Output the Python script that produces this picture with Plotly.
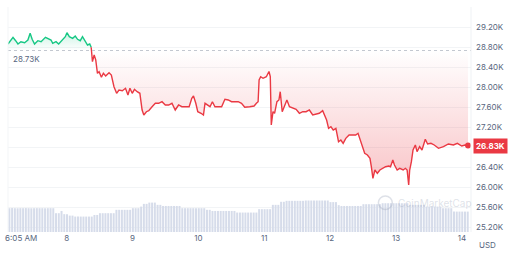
import plotly.graph_objects as go

# ---- data (time in fractional days of May, price in USD) ----
green_t = [7.110, 7.186, 7.226, 7.261, 7.306, 7.362, 7.412, 7.446, 7.477, 7.513, 7.563, 7.612,
           7.679, 7.713, 7.763, 7.789, 7.839, 7.879, 7.929, 7.980, 8.005, 8.041, 8.091, 8.131,
           8.166, 8.207, 8.241, 8.282, 8.317, 8.351, 8.373]
green_p = [28860, 28994, 28926, 28860, 28906, 28886, 28940, 29074, 28954, 28860, 28926, 28906,
           28994, 28974, 28940, 28874, 28906, 28860, 28940, 29006, 29086, 29006, 28974, 29020,
           28954, 28926, 29006, 28926, 28840, 28860, 28794]

red_t = [8.373, 8.392, 8.418, 8.442, 8.468, 8.493, 8.528, 8.558, 8.593, 8.644, 8.679, 8.719, 8.759,
         8.795, 8.845, 8.894, 8.931, 8.961, 8.996, 9.030, 9.071, 9.112, 9.146, 9.172, 9.211,
         9.247, 9.297, 9.347, 9.398, 9.448, 9.498, 9.549, 9.599, 9.649, 9.700, 9.750, 9.810,
         9.860, 9.900, 9.926, 9.961, 9.991, 10.041, 10.077, 10.101, 10.142, 10.177, 10.213,
         10.252, 10.303, 10.353, 10.403, 10.454, 10.504, 10.564, 10.605, 10.655, 10.704, 10.780,
         10.846, 10.881, 10.907, 10.922, 10.946, 10.982, 11.032, 11.072, 11.092, 11.107, 11.133,
         11.157, 11.193, 11.223, 11.243, 11.273, 11.308, 11.344, 11.383, 11.434, 11.484, 11.534,
         11.585, 11.635, 11.685, 11.736, 11.786, 11.836, 11.887, 11.911, 11.947, 11.977, 12.012,
         12.047, 12.088, 12.128, 12.163, 12.198, 12.238, 12.288, 12.339, 12.389, 12.424, 12.454,
         12.490, 12.525, 12.566, 12.605, 12.626, 12.650, 12.680, 12.717, 12.756, 12.792, 12.842,
         12.891, 12.917, 12.952, 12.977, 13.018, 13.057, 13.109, 13.143, 13.169, 13.193, 13.208,
         13.234, 13.259, 13.294, 13.320, 13.359, 13.395, 13.445, 13.480, 13.531, 13.581, 13.646,
         13.721, 13.796, 13.872, 13.932, 13.999, 14.048, 14.094]
red_p = [28794, 28506, 28640, 28540, 28274, 28306, 28194, 28274, 28220, 28286, 28240, 28006, 27874,
         27940, 27926, 27974, 27840, 27974, 27874, 27954, 27906, 27874, 27540, 27440, 27506,
         27526, 27606, 27674, 27674, 27706, 27640, 27640, 27674, 27540, 27640, 27606, 27606,
         27606, 27774, 27820, 27674, 27506, 27474, 27440, 27674, 27640, 27606, 27706,
         27606, 27606, 27606, 27754, 27740, 27706, 27706, 27706, 27674, 27594, 27606,
         27620, 27674, 27706, 28140, 28206, 28174, 28206, 28310, 28206, 27240, 27506,
         27474, 27706, 27740, 27906, 27506, 27606, 27740, 27606, 27574, 27554, 27474,
         27506, 27506, 27540, 27440, 27460, 27474, 27526, 27440, 27340, 27174, 27206,
         27140, 27174, 26906, 26940, 26874, 26974, 27040, 27040, 27040, 27074, 26940,
         26806, 26674, 26640, 26574, 26406, 26174, 26340, 26274, 26340, 26374, 26406,
         26420, 26406, 26540, 26440, 26340, 26374, 26340, 26374, 26340, 26040, 26340,
         26506, 26740, 26840, 26706, 26806, 26740, 26954, 26860, 26874, 26840, 26774,
         26806, 26860, 26840, 26874, 26820, 26840, 26830]

baseline_price = 28730
last_price = 26830

volume_start = 7.110
volume_step = 1 / 24  # hourly
volume = [740, 745, 740, 738, 742, 740, 744, 740, 738, 740, 742, 740, 740, 738, 740, 742, 740,
          585, 585, 655, 555, 555, 510, 510, 480, 480, 480, 480, 480, 480, 480, 530, 530,
          585, 585, 585, 585, 585, 585, 690, 690, 690, 690, 690, 690, 740, 740, 740, 790,
          875, 875, 915, 915, 915, 845, 845, 810, 810, 810, 810, 810, 810, 810, 740, 740,
          740, 740, 740, 740, 740, 740, 740, 690, 690, 655, 655, 655, 655, 655, 655, 655,
          655, 655, 605, 605, 605, 605, 605, 605, 605, 605, 710, 710, 710, 710, 710, 845,
          845, 845, 940, 940, 970, 970, 970, 970, 970, 970, 970, 980, 980, 980, 980, 980,
          980, 980, 980, 980, 930, 930, 930, 835, 810, 810, 810, 810, 810, 810, 810, 810,
          865, 865, 865, 865, 865, 865, 865, 895, 895, 895, 895, 895, 895, 895, 895, 895,
          895, 845, 845, 845, 845, 845, 845, 790, 790, 790, 790, 790, 790, 740, 740, 740,
          740, 635, 635, 635, 635, 635, 635]
volume_t = [volume_start + volume_step * (i + 0.5) for i in range(len(volume))]

price_ticks = [25200, 25600, 26000, 26400, 26800, 27200, 27600, 28000, 28400, 28800, 29200]
price_tick_text = ["25.20K", "25.60K", "26.00K", "26.40K", "26.80K", "27.20K", "27.60K",
                   "28.00K", "28.40K", "28.80K", "29.20K"]
x_ticks = [7.31, 8, 9, 10, 11, 12, 13, 14]
x_tick_text = ["6:05 AM", "8", "9", "10", "11", "12", "13", "14"]

GREEN = "#16c784"
RED = "#ea3943"
GRAY = "#58667e"
WM = "rgba(160,170,190,0.35)"

fig = go.Figure()

fig.add_trace(go.Bar(x=volume_t, y=volume, yaxis="y2", marker=dict(color="#d6dcea", line=dict(width=0)),
                     hoverinfo="skip", showlegend=False))

# green segment
fig.add_trace(go.Scatter(x=[green_t[0], green_t[-1]], y=[baseline_price, baseline_price], mode="lines",
                         line=dict(width=0), hoverinfo="skip", showlegend=False))
fig.add_trace(go.Scatter(x=green_t, y=green_p, mode="lines", line=dict(color=GREEN, width=1.4),
                         fill="tonexty",
                         fillgradient=dict(type="vertical", start=baseline_price, stop=29100,
                                           colorscale=[[0, "rgba(22,199,132,0.0)"], [1, "rgba(22,199,132,0.22)"]]),
                         hoverinfo="skip", showlegend=False))

# red segment
fig.add_trace(go.Scatter(x=[red_t[0], red_t[-1]], y=[baseline_price, baseline_price], mode="lines",
                         line=dict(width=0), hoverinfo="skip", showlegend=False))
fig.add_trace(go.Scatter(x=red_t, y=red_p, mode="lines", line=dict(color=RED, width=1.4),
                         fill="tonexty",
                         fillgradient=dict(type="vertical", start=26000, stop=baseline_price,
                                           colorscale=[[0, "rgba(234,57,67,0.30)"], [1, "rgba(234,57,67,0.0)"]]),
                         hoverinfo="skip", showlegend=False))

# last point marker
fig.add_trace(go.Scatter(x=[red_t[-1]], y=[last_price], mode="markers",
                         marker=dict(color=RED, size=6), hoverinfo="skip", showlegend=False))

fig.add_hline(y=baseline_price, line=dict(color="#c3c8d0", width=1, dash="dot"))

fig.add_annotation(x=0.007, xref="paper", y=baseline_price, yref="y", text="28.73K", showarrow=False,
                   xanchor="left", yanchor="top", yshift=-1, font=dict(size=8, color=GRAY, family="Inter"))
fig.add_annotation(x=1.004, xref="paper", y=last_price, yref="y", text="<b>26.83K</b>", showarrow=False,
                   xanchor="left", yanchor="middle", bgcolor=RED, borderpad=2,
                   font=dict(size=8, color="white", family="Inter"))
fig.add_annotation(x=1.036, xref="paper", y=-0.058, yref="paper", text="USD", showarrow=False,
                   xanchor="center", yanchor="middle", font=dict(size=8, color=GRAY, family="Inter"))
fig.add_annotation(x=0.838, xref="paper", y=0.13, yref="paper", text="CoinMarketCap", showarrow=False,
                   xanchor="left", yanchor="middle", font=dict(size=10, color=WM, family="Inter"))
fig.add_shape(type="circle", xref="paper", yref="paper", x0=0.800, x1=0.830, y0=0.10, y1=0.16,
              line=dict(color=WM, width=1.5))

fig.add_shape(type="line", xref="paper", yref="paper", x0=1, x1=1, y0=0, y1=1,
              line=dict(color="#eff2f5", width=1))
fig.add_shape(type="line", xref="paper", yref="paper", x0=0, x1=0, y0=0, y1=1,
              line=dict(color="#f3f5f7", width=1))

fig.update_layout(
    width=512, height=257,
    margin=dict(l=5, r=41, t=7, b=25),
    paper_bgcolor="white", plot_bgcolor="white",
    bargap=0.28,
    showlegend=False,
    xaxis=dict(range=[7.110, 14.139], tickvals=x_ticks, ticktext=x_tick_text, showgrid=False,
               zeroline=False, ticks="", tickfont=dict(size=8, color=GRAY, family="Inter")),
    yaxis=dict(range=[25100, 29600], side="right", tickvals=price_ticks + [29600],
               ticktext=price_tick_text + [""], showgrid=True, gridcolor="#f2f4f6", zeroline=False,
               ticks="", ticklabelstandoff=4, tickfont=dict(size=8, color=GRAY, family="Inter")),
    yaxis2=dict(range=[0, 7000], overlaying="y", visible=False),
)

fig.write_html("out.html", config={"displayModeBar": False, "staticPlot": True})
